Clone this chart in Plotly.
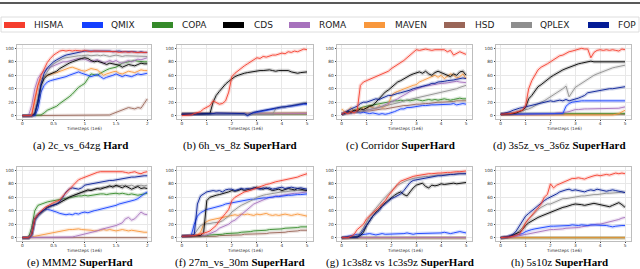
import numpy as np
import plotly.graph_objects as go

W, H = 640, 269

methods = ["HISMA", "QMIX", "COPA", "CDS", "ROMA", "MAVEN", "HSD", "QPLEX", "FOP"]
colors = {"HISMA": "#f53d2d", "QMIX": "#1440ff", "COPA": "#358a2a", "CDS": "#000000",
          "ROMA": "#a772bd", "MAVEN": "#f8973c", "HSD": "#9a6658", "QPLEX": "#8e8e8e",
          "FOP": "#041c96"}
draw_order = ["HSD", "COPA", "MAVEN", "ROMA", "QMIX", "QPLEX", "CDS", "FOP", "HISMA"]

letters = ["a", "b", "c", "d", "e", "f", "g", "h"]
scenarios = ["2c_vs_64zg", "6h_vs_8z", "Corridor", "3s5z_vs_3s6z",
             "MMM2", "27m_vs_30m", "1c3s8z vs 1c3s9z", "5s10z"]
difficulty = ["Hard", "SuperHard", "SuperHard", "SuperHard",
              "SuperHard", "SuperHard", "SuperHard", "SuperHard"]
t_max = [2, 5, 5, 5, 2, 5, 5, 5]
xticks_2 = [0, 0.5, 1, 1.5, 2]
xticklabels_2 = ["0", "0.5", "1", "1.5", "2"]
xticks_5 = [0, 1, 2, 3, 4, 5]
xticklabels_5 = ["0", "1", "2", "3", "4", "5"]
yticks = [0, 20, 40, 60, 80, 100]

# ---------------- (a) 2c_vs_64zg ----------------
a_HISMA = [0,0,0,0,25,45,60,70,79,85,90,93,96,97,96,97,96,97,96,96,97,96,95,96,96,95,96,96,95,96,95,94,95,95,94,95,94,94,95,94,94]
a_FOP = [0,0,0,0,2,20,48,63,71,76,80,83,86,88,90,91,93,94,95,95,96,96,96,97,96,96,97,96,96,95,96,96,95,95,96,95,95,94,95,94,94]
a_QPLEX = [0,0,0,0,5,25,45,58,66,72,77,80,83,85,86,87,88,88,89,89,90,90,89,90,90,89,90,89,88,89,90,89,88,89,89,88,89,88,89,88,88]
a_ROMA = [0,0,0,15,40,55,62,66,70,72,74,76,79,80,80,81,82,83,85,84,84,82,80,82,83,81,78,80,82,80,82,79,78,80,82,80,82,84,83,85,86]
a_CDS = [0,0,0,0,3,20,45,55,60,62,64,66,70,73,76,78,80,82,84,85,86,85,82,80,81,80,78,76,78,77,76,75,72,74,76,75,74,76,78,77,77]
a_MAVEN = [0,0,0,2,20,45,55,58,60,62,63,64,66,68,70,71,72,70,68,67,66,68,70,69,68,64,60,62,64,65,66,63,62,64,66,65,64,66,68,67,67]
a_QMIX = [0,0,0,0,0,10,35,45,50,52,53,55,56,57,58,60,62,64,65,63,62,60,58,60,61,58,55,57,58,60,62,60,58,60,59,58,60,62,61,62,63]
a_COPA = [0,0,0,0,0,0,1,4,8,10,12,14,18,21,25,28,32,37,42,45,48,55,62,61,60,63,66,68,70,71,72,75,78,79,80,81,82,81,80,80,80]
a_HSD = [0,0,0,0,0,0,0,0,0,0,0,0,0,0,0,0,0,0,0,0,0,0,0,0,0,0,0,0,1,3,5,6,8,10,12,11,10,12,11,18,25]

# ---------------- (b) 6h_vs_8z ----------------
b_HISMA = [0,0,1,1,3,5,6,10,12,15,22,20,17,18,22,35,58,63,67,70,74,77,80,83,86,85,88,87,89,90,90,92,93,92,95,94,96,95,97,99,98]
b_CDS = [2,2,2,2,2,2,2,2,2,3,20,30,36,42,47,51,55,58,60,62,63,64,65,66,66,67,67,68,68,67,66,67,67,66,67,65,64,63,64,64,65]
b_FOP = [2,2,3,3,3,3,3,3,3,3,3,4,4,4,4,4,3,4,4,4,3,0,3,5,6,7,8,9,10,10,11,12,13,13,14,15,15,16,17,18,18]
b_QMIX = [2,2,2,2,3,3,3,3,3,3,3,3,3,3,3,3,3,3,3,3,2,1,3,4,5,6,7,8,9,10,11,12,12,13,14,14,15,16,16,17,17]
b_QPLEX = [2,2,2,2,2,2,3,2,2,2,2,2,3,2,2,2,2,2,3,2,2,2,2,3,2,2,2,2,2,2,10,12,12,13,14,15,16,17,18,19,20]
b_ROMA = [2,2,2,3,3,3,3,3,3,3,3]
b_MAVEN = [3,3,3,3,3,3,3,4,3,3,3]
b_HSD = [3,3,3,4,4,4,4,4,4,4,4]
b_COPA = [2,2,2,2,2,2,2,2,2,2,2]

# ---------------- (c) Corridor ----------------
c_HISMA = [2,5,3,6,4,8,45,50,52,54,56,57,60,61,64,66,70,73,76,78,82,86,90,95,98,97,98,99,98,97,98,98,97,98,95,97,90,93,95,93,91]
c_CDS = [2,4,6,5,8,7,10,9,12,14,15,20,25,30,35,38,42,45,50,52,55,57,60,62,64,65,63,66,62,60,64,66,64,62,60,58,62,60,65,66,60]
c_MAVEN = [10,5,8,12,6,10,8,12,10,14,12,10,15,12,14,16,30,34,36,38,40,42,44,45,46,50,52,54,56,58,60,57,60,55,58,62,60,56,58,62,55]
c_FOP = [2,5,8,10,12,14,18,20,20,22,24,25,24,26,28,30,30,32,33,34,35,36,38,40,41,42,44,45,46,48,48,50,50,51,52,52,53,54,55,56,55]
c_ROMA = [2,3,4,5,5,6,6,7,8,8,10,10,12,14,16,18,20,22,25,28,30,33,36,38,40,42,43,44,45,46,46,47,48,48,49,50,50,51,50,50,49]
c_QPLEX = [2,3,4,4,5,5,6,7,8,9,10,11,12,13,14,15,16,17,19,20,22,23,24,25,26,28,29,30,31,32,33,34,35,36,37,38,39,40,42,43,45]
c_COPA = [2,4,5,6,8,10,12,13,14,15,16,17,18,19,20,21,21,22,22,23,22,23,22,23,24,23,22,23,24,23,24,23,24,25,24,23,24,25,26,25,25]
c_QMIX = [2,4,5,4,6,5,4,5,4,3,4,3,2,3,2,3,4,6,8,10,10,12,12,13,14,14,15,15,16,16,16,16,17,17,16,17,18,16,17,18,17]
c_HSD = [2,3,3,4,5,5,6,6,7,7,8,8,9,10,10,11,12,12,13,14,15,15,16,16,17,17,18,18,18,19,19,20,20,20,21,21,21,22,22,22,22]

# ---------------- (d) 3s5z_vs_3s6z ----------------
d_HISMA = [2,2,2,3,4,5,6,8,15,40,52,60,68,72,74,77,80,83,87,89,90,93,95,96,97,99,100,99,99,86,94,97,98,97,98,97,98,97,96,99,98]
d_CDS = [2,2,2,2,3,4,6,8,12,25,30,36,43,46,50,53,57,60,63,66,68,70,72,74,76,77,78,79,80,81,80,80,81,80,81,80,81,80,80,81,80]
d_QPLEX = [2,2,2,3,4,5,6,7,8,10,12,15,18,20,22,25,28,30,33,36,40,44,28,35,42,45,48,52,55,58,60,62,64,66,68,70,71,72,73,74,75]
d_FOP = [2,3,4,6,8,10,11,12,13,15,16,17,18,18,19,20,22,21,22,23,22,24,22,23,25,26,28,30,34,35,36,37,38,38,39,40,40,41,42,43,43]
d_QMIX = [2,2,2,2,2,2,2,2,2,2,2,2,2,2,2,2,2,2,2,2,3,14,18,20,21,21,22,22,22,23,22,22,23,22,22,23,22,22,22,22,22]
d_ROMA = [2,2,2,2,2,2,2,2,2,2,2,2,2,3,3,3,3,3,4,4,5,5,6,8,9,9,10,10,10,10,10,11,10,11,10,11,11,10,11,12,13]
d_MAVEN = [1,1,1,1,1,1,1,1,1,1,1,1,1,1,1,1,1,1,1,3,8]
d_COPA = [2,3,3,3,3,3,3,3,3,3,3]
d_HSD = [2,2,2,2,2,2,2,2,2,2,2]

# ---------------- (e) MMM2 ----------------
e_HISMA = [0,0,0,5,28,35,40,44,47,50,52,54,56,62,67,72,76,82,86,88,90,92,93,96,97,98,98,99,98,99,98,99,98,97,96,97,98,96,95,97,98]
e_FOP = [0,0,0,5,28,34,38,42,45,47,48,50,54,60,68,72,74,73,72,74,78,79,80,80,81,82,83,84,85,85,86,87,88,88,89,90,90,91,91,92,92]
e_CDS = [0,0,0,5,28,34,38,42,45,47,48,50,52,55,58,60,62,64,66,68,70,71,70,72,73,72,74,76,77,75,78,76,74,77,75,72,74,76,73,74,73]
e_QPLEX = [0,0,0,4,26,32,36,40,44,46,48,50,52,54,57,60,62,64,66,67,68,70,71,72,73,74,75,74,76,77,76,77,78,76,77,78,76,77,78,77,78]
e_COPA = [0,0,0,15,40,48,50,52,53,54,55,56,57,58,59,60,60,61,62,62,63,62,63,64,64,65,65,64,65,66,66,65,66,65,64,65,64,63,64,65,66]
e_QMIX = [0,0,0,3,25,32,38,41,42,41,40,38,36,35,34,35,34,36,35,37,38,37,39,40,41,42,43,44,45,46,48,50,51,52,54,55,56,58,62,65,68]
e_ROMA = [0,0,0,0,0,0,0,0,0,0,0,0,0,0,0,0,1,2,3,4,5,6,8,9,10,12,13,14,15,17,18,20,22,28,30,26,28,33,38,35,34]
e_MAVEN = [0,0,0,1,2,3,3,4,5,6,7,8,9,10,11,12,12,13,13,12,12,11,11,10,10,11,12,11,12,11,10,11,12,11,10,11,10,9,9,8,8]
e_HSD = [0,0,0,0,0,0,0,0,0,0,0]

# ---------------- (f) 27m_vs_30m ----------------
f_FOP = [2,2,2,3,5,50,62,65,68,69,70,69,70,68,71,72,72,70,72,73,72,73,72,74,73,72,74,73,74,72,73,74,75,73,74,75,74,73,74,73,72]
f_QMIX = [2,2,2,3,20,32,37,40,42,43,44,45,46,48,50,51,52,53,54,55,55,56,57,57,58,58,59,59,60,60,61,61,62,62,63,63,64,64,64,65,65]
f_CDS = [2,2,2,2,2,2,3,8,55,60,62,63,64,65,66,68,70,69,70,72,70,71,72,74,75,73,72,74,72,70,71,72,70,72,73,72,71,73,72,71,70]
f_QPLEX = [2,2,2,3,5,12,18,20,20,21,22,22,23,25,28,32,38,42,45,48,50,52,55,57,60,62,63,64,65,66,67,67,68,68,69,69,70,70,70,70,70]
f_HISMA = [2,2,2,2,3,4,5,6,8,10,14,18,25,30,36,42,55,60,63,66,68,69,70,72,74,76,78,79,80,82,83,84,85,86,87,88,88,90,92,94,95]
f_MAVEN = [2,2,2,2,3,4,8,20,24,26,27,28,28,29,30,31,33,34,33,35,34,35,34,33,35,34,35,36,34,33,34,33,34,35,34,33,34,35,34,33,32]
f_ROMA = [2,2,2,2,2,2,2,3,4,6,8,10,14,16,18,20,24,26,30,34,38,42,46,50,52,54,56,58,60,60,62,62,63,64,64,65,66,66,67,68,68]
f_COPA = [2,2,2,2,2,2,2,3,3,4,4,5,5,5,6,6,6,7,7,8,8,9,9,10,10,10,11,11,12,12,12,13,13,14,14,14,15,15,16,16,16]
f_HSD = [1,1,1,1,1,1,1,2,2,2,2,2,3,3,3,3,4,4,4,4,5,5,5,5,6,6,6,6,7,7,8,8,8,8,9,9,10,10,11,11,11]

# ---------------- (g) 1c3s8z vs 1c3s9z ----------------
g_HISMA = [0,0,0,2,5,12,16,20,28,32,36,40,45,50,55,62,68,74,80,84,86,88,90,91,92,93,93,94,95,95,96,96,96,97,97,97,98,98,98,99,99]
g_FOP = [0,0,0,0,0,1,5,12,20,26,32,36,40,46,50,54,58,60,62,65,70,76,82,85,86,87,88,89,90,90,91,92,92,93,93,94,94,95,95,95,95]
g_QPLEX = [0,0,0,0,1,3,8,15,24,32,38,44,50,55,60,65,70,74,78,81,83,85,87,88,89,90,90,91,91,92,92,93,93,93,94,94,94,95,95,95,95]
g_CDS = [0,0,0,0,0,1,3,8,18,26,32,38,42,48,52,56,60,63,66,68,64,62,68,74,78,80,81,76,74,78,77,78,80,79,80,80,81,80,81,82,82]
g_QMIX = [0,1,2,3,4,5,4,5,5,6,5,4,5,6,5,5,6,5,6,5,6,7,6,5,6,6,7,6,7,6,7,6,7,8,7,6,7,8,9,8,7]
g_COPA = [0,0,0,0,0,0,0,0,0,0,0]
g_ROMA = [0,0,0,0,0,0,0,0,0,0,0]
g_MAVEN = [0,0,0,0,0,0,0,0,0,0,0]
g_HSD = [0,0,0,0,0,0,0,0,0,0,0]

# ---------------- (h) 5s10z ----------------
h_HISMA = [0,0,0,1,2,3,5,12,22,28,33,38,44,50,60,64,80,74,78,80,82,84,86,88,88,89,88,87,89,91,92,93,92,93,94,93,95,96,95,96,95]
h_FOP = [0,0,1,3,5,10,18,25,32,36,40,44,48,52,55,58,60,62,65,68,70,71,72,70,71,70,69,68,70,71,70,72,71,70,69,70,71,70,69,68,67]
h_QPLEX = [0,0,1,2,4,6,10,15,22,28,32,37,42,45,48,50,50,52,55,57,58,58,59,60,60,61,62,62,63,63,64,64,65,65,66,66,66,67,67,68,67]
h_CDS = [0,0,1,2,4,6,8,12,18,22,25,28,30,32,34,36,38,40,42,44,45,46,48,49,50,50,49,48,49,50,51,50,49,48,47,46,48,50,52,49,45]
h_QMIX = [0,0,1,2,3,4,5,6,9,11,12,13,14,15,16,16,17,17,17,18,18,18,18,19,18,18,19,18,18,19,19,18,18,19,18,17,16,17,18,18,18]
h_ROMA = [0,0,0,1,1,2,3,4,5,6,7,8,9,10,10,11,12,12,12,13,13,14,14,15,15,15,16,17,17,18,19,20,20,21,22,23,25,26,27,29,30]
h_MAVEN = [0,0,0,0,0,0,0,0,0,0,0]
h_COPA = [0,0,0,0,0,0,0,0,0,0,0]
h_HSD = [0,0,0,0,0,0,0,0,0,0,0]

g = globals()
panels = [{m: g[f"{l}_{m}"] for m in methods} for l in letters]

# ---------------- layout geometry ----------------
xdom_px = [(17, 151), (177, 313), (337, 472), (496, 631)]
ydom_px = [(45, 119), (167, 241)]
caption_cx = [80, 240, 400, 559]
caption_cy = [145, 262]
xtitle_cy = [128.5, 250.5]

def px(x):
    return x / W

def py(y):
    return 1 - y / H

fig = go.Figure()
layout = dict(width=W, height=H, margin=dict(l=0, r=0, t=0, b=0),
              paper_bgcolor="white", plot_bgcolor="white", showlegend=False,
              font=dict(family="DejaVu Sans"))
annotations = []
shapes = []

for k in range(8):
    r, c = divmod(k, 4)
    sfx = "" if k == 0 else str(k + 1)
    xa, ya = "x" + sfx, "y" + sfx
    T = t_max[k]
    if T == 2:
        tv, tt, xr = xticks_2, xticklabels_2, [-0.085, 2.06]
    else:
        tv, tt, xr = xticks_5, xticklabels_5, [-0.19, 5.24]
    common = dict(showgrid=True, gridcolor="#e8e8e8", gridwidth=0.6, zeroline=False,
                  showline=True, mirror=True, linecolor="#bdbdbd", linewidth=0.8,
                  ticks="outside", tickcolor="#444", tickwidth=0.6,
                  tickfont=dict(size=4.3, color="#333", family="DejaVu Sans"),
                  fixedrange=True)
    layout["xaxis" + sfx] = dict(domain=[px(xdom_px[c][0]), px(xdom_px[c][1])], anchor=ya,
                                 range=xr, tickvals=tv, ticktext=tt, ticklen=1.5,
                                 ticklabelstandoff=-2, **common)
    layout["yaxis" + sfx] = dict(domain=[py(ydom_px[r][1]), py(ydom_px[r][0])], anchor=xa,
                                 range=[-5, 105], tickvals=yticks,
                                 ticktext=[str(v) for v in yticks], ticklen=1.5, **common)
    data = panels[k]
    for m in draw_order:
        vals = np.array(data[m], dtype=float)
        xs = np.linspace(0, T, len(vals))
        fig.add_trace(go.Scatter(x=xs, y=vals, mode="lines", xaxis=xa, yaxis=ya,
                                 line=dict(color=colors[m], width=3.5), opacity=0.18,
                                 hoverinfo="skip"))
        fig.add_trace(go.Scatter(x=xs, y=vals, mode="lines", xaxis=xa, yaxis=ya,
                                 line=dict(color=colors[m], width=0.9), name=m))
    cx = (xdom_px[c][0] + xdom_px[c][1]) / 2
    annotations.append(dict(x=px(cx), y=py(xtitle_cy[r]), xref="paper", yref="paper",
                            text="Timesteps (1e6)", showarrow=False,
                            font=dict(size=4.3, color="#333", family="DejaVu Sans"),
                            xanchor="center", yanchor="middle"))
    annotations.append(dict(x=px(caption_cx[c]), y=py(caption_cy[r]), xref="paper", yref="paper",
                            text=f"({letters[k]}) {scenarios[k]} <b>{difficulty[k]}</b>",
                            showarrow=False,
                            font=dict(size=11, color="black", family="Liberation Serif"),
                            xanchor="center", yanchor="middle"))

# ---------------- legend (drawn manually) ----------------
swatch_x = [4, 82, 152, 223, 289, 364, 444, 511, 588]
label_x = [32, 109, 180, 252, 317, 393, 473, 538, 616]
shapes.append(dict(type="rect", xref="paper", yref="paper", x0=px(1), x1=px(639),
                   y0=py(32), y1=py(17), line=dict(color="#d6d6d6", width=0.8),
                   fillcolor="white", layer="below"))
for m, sx, lx in zip(methods, swatch_x, label_x):
    shapes.append(dict(type="rect", xref="paper", yref="paper", x0=px(sx), x1=px(sx + 21),
                       y0=py(28), y1=py(22), line=dict(width=0), fillcolor=colors[m]))
    annotations.append(dict(x=px(lx), y=py(25), xref="paper", yref="paper", text=m,
                            showarrow=False, xanchor="left", yanchor="middle",
                            font=dict(size=9, color="#222", family="DejaVu Sans")))

# top rule of the page
shapes.append(dict(type="line", xref="paper", yref="paper", x0=0, x1=1, y0=py(3), y1=py(3),
                   line=dict(color="#222", width=1.5)))

layout["annotations"] = annotations
layout["shapes"] = shapes
fig.update_layout(**layout)
fig.write_html("out.html", config={"displayModeBar": False},
               post_script="document.body.style.margin='0';document.body.style.overflow='hidden';")
